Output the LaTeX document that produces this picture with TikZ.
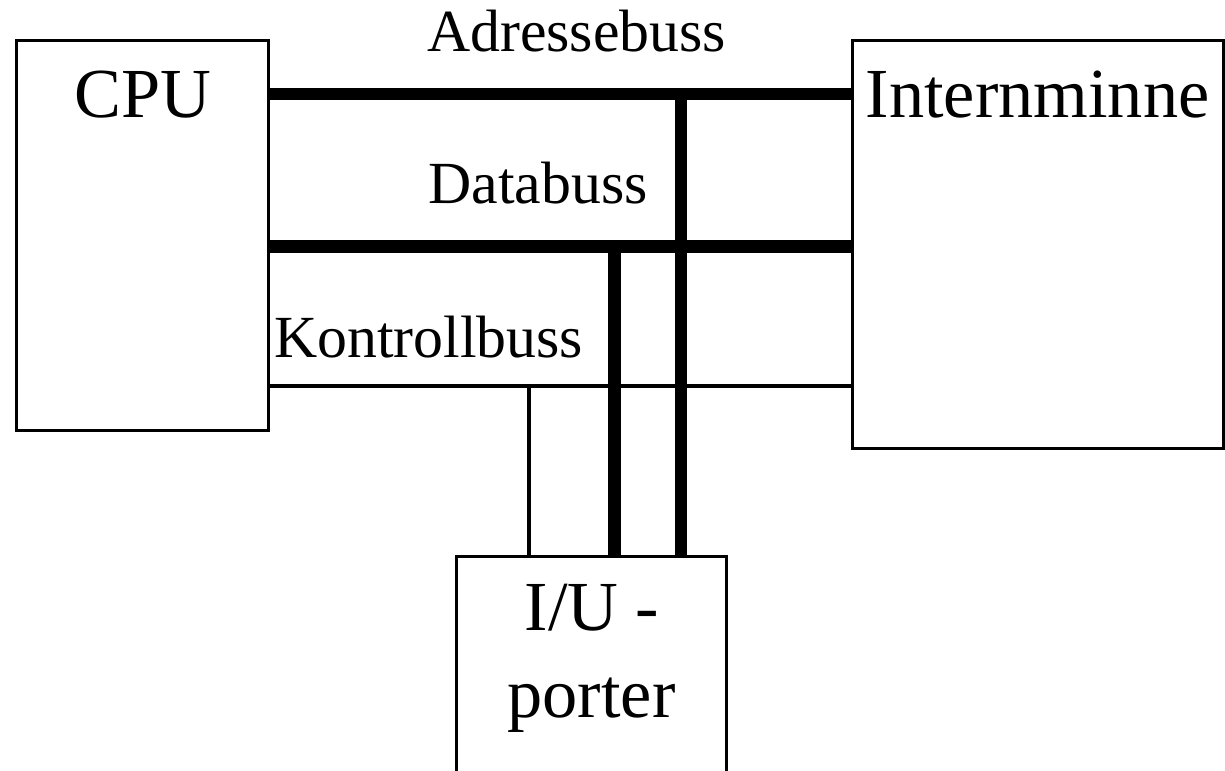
\documentclass[tikz,border=0pt]{standalone}
\usepackage{fontspec}
\setmainfont{Liberation Serif}

\begin{document}
\begin{tikzpicture}[x=0.01cm, y=-0.01cm,
                    unit box/.style={rectangle,draw,line width=0.85pt,inner sep=0pt},
                    unit label/.style={anchor=base,inner sep=0pt,font=\fontsize{20}{24}\selectfont},
                    bus label/.style={anchor=base,inner sep=0pt,font=\fontsize{17}{20}\selectfont},
                    thick bus/.style={line width=3.6pt},
                    thin bus/.style={line width=1.1pt}]

  \useasboundingbox (0,0) rectangle (1225,770);

  % Unita' (la scatola I/U esce in basso)
  \node[unit box, minimum width=2.52cm, minimum height=3.90cm] (cpu) at (142.5, 235.5) {};
  \node[unit box, minimum width=3.71cm, minimum height=4.08cm] (mem) at (1038, 244.5) {};
  \node[unit box, minimum width=2.69cm, minimum height=3cm] (io) at (591.5, 706.5) {};

  \node[unit label] (cpu label) at (143, 118) {CPU};
  \node[unit label] (mem label) at (1037.5, 118) {Internminne};
  \node[unit label] (io label1) at (592, 630) {I/U -};
  \node[unit label] (io label2) at (591.5, 717) {porter};

  % Punti di derivazione verso I/U
  \coordinate (addr) at (681, 94);
  \coordinate (data) at (614.5, 246.5);
  \coordinate (ctrl) at (529, 386);

  % Bus orizzontali
  \draw[thick bus] (cpu.east |- addr) -- (mem.west |- addr);
  \draw[thick bus] (cpu.east |- data) -- (mem.west |- data);
  \draw[thin bus]  (cpu.east |- ctrl) -- (mem.west |- ctrl);

  % Derivazioni verticali
  \draw[thick bus] (addr) -- (addr |- io.north);
  \draw[thick bus] (data) -- (data |- io.north);
  \draw[thin bus]  (ctrl) -- (ctrl |- io.north);

  \node[bus label] (addr label) at (576.5, 51.5) {Adressebuss};
  \node[bus label] (data label) at (538, 203) {Databuss};
  \node[bus label] (ctrl label) at (428.5, 357) {Kontrollbuss};

\end{tikzpicture}
\end{document}
